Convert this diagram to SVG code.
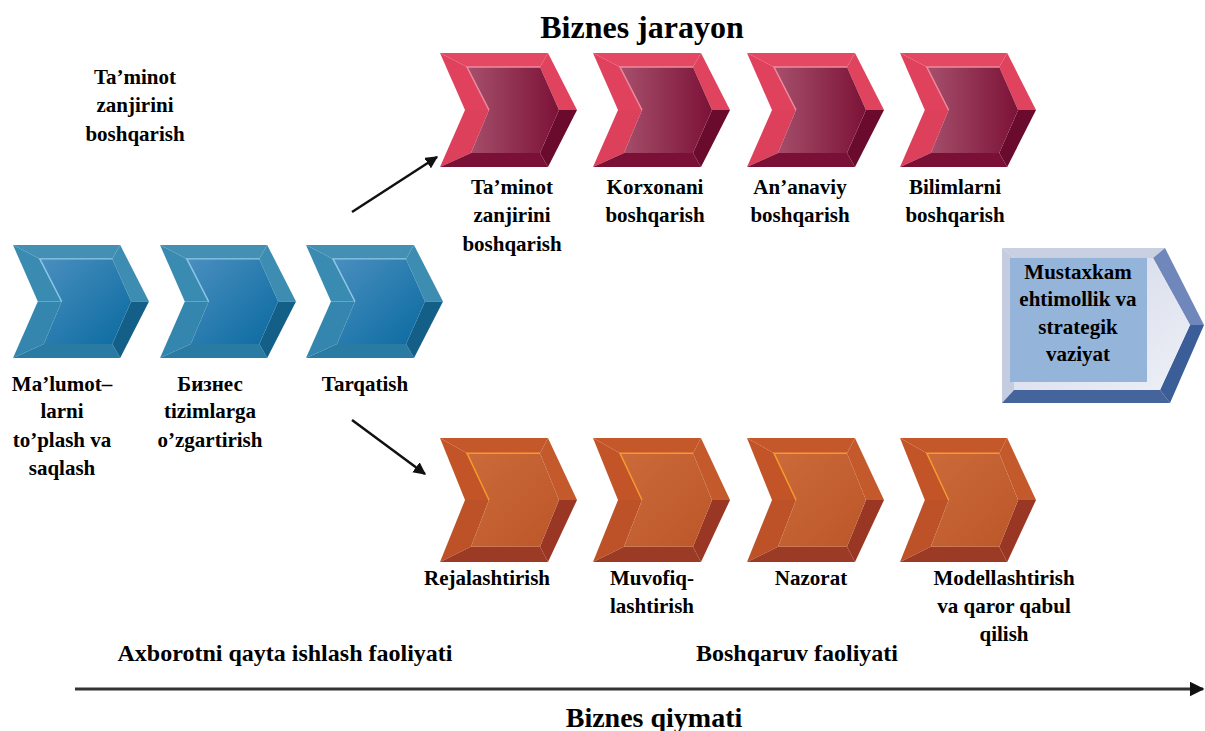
<svg xmlns="http://www.w3.org/2000/svg" xmlns:xlink="http://www.w3.org/1999/xlink" width="1205" height="731" viewBox="0 0 1205 731">
<style>
text{font-family:"Liberation Serif","Times New Roman",serif;font-weight:bold;fill:#000;text-anchor:middle}
.lbl{font-size:21px}
.conn{stroke:#111;stroke-width:2.5;fill:none}
</style>
<defs>
<linearGradient id="gBlue" x1="0" y1="0" x2="1" y2="1"><stop offset="0" stop-color="#4a8fbf"/><stop offset="1" stop-color="#0a6aa0"/></linearGradient>
<linearGradient id="gRed" x1="0" y1="0" x2="1" y2="0"><stop offset="0" stop-color="#a6506c"/><stop offset="1" stop-color="#7c1237"/></linearGradient>
<linearGradient id="gOrange" x1="0" y1="0" x2="1" y2="1"><stop offset="0" stop-color="#cc6a3a"/><stop offset="1" stop-color="#bb5628"/></linearGradient>
<linearGradient id="gBox" x1="0" y1="0" x2="1" y2="1"><stop offset="0" stop-color="#d0d6e8"/><stop offset="1" stop-color="#eef0f6"/></linearGradient>
<marker id="ah" viewBox="0 0 10 10" refX="9" refY="5" markerWidth="5" markerHeight="5" orient="auto" markerUnits="strokeWidth"><path d="M0,0 L10,5 L0,10 z" fill="#111"/></marker>
<marker id="ah2" viewBox="0 0 10 10" refX="9" refY="5" markerWidth="5" markerHeight="5" orient="auto" markerUnits="strokeWidth"><path d="M0,0 L10,5 L0,10 z" fill="#111"/></marker>
<symbol id="chevBlue" viewBox="0 0 137 114" preserveAspectRatio="none">
<polygon points="0,0 108,0 100,14 27,14" fill="#4490b5"/>
<polygon points="0,0 27,14 49,57 25,57" fill="#3a8bb1"/>
<polygon points="25,57 49,57 31,100 0,114" fill="#3586ae"/>
<polygon points="0,114 31,100 100,100 108,114" fill="#2a7ba3"/>
<polygon points="108,0 137,57 119,57 100,14" fill="#3d8db3"/>
<polygon points="137,57 108,114 100,100 119,57" fill="#145f88"/>
<polygon points="27,14 100,14 119,57 100,100 31,100 49,57" fill="url(#gBlue)"/>
<polyline points="49,57 27,14 100,14" fill="none" stroke="#8fc6e6" stroke-width="1.5"/>
</symbol>
<symbol id="chevRed" viewBox="0 0 137 114" preserveAspectRatio="none">
<polygon points="0,0 108,0 100,14 27,14" fill="#e44862"/>
<polygon points="0,0 27,14 49,57 25,57" fill="#e0425d"/>
<polygon points="25,57 49,57 31,100 0,114" fill="#dc405b"/>
<polygon points="0,114 31,100 100,100 108,114" fill="#7a1035"/>
<polygon points="108,0 137,57 119,57 100,14" fill="#e0435e"/>
<polygon points="137,57 108,114 100,100 119,57" fill="#6a0a2c"/>
<polygon points="27,14 100,14 119,57 100,100 31,100 49,57" fill="url(#gRed)"/>
<polyline points="49,57 27,14 100,14" fill="none" stroke="#ec8aa0" stroke-width="1.5"/>
</symbol>
<symbol id="chevOrange" viewBox="0 0 137 114" preserveAspectRatio="none">
<polygon points="0,0 108,0 100,14 27,14" fill="#c4582b"/>
<polygon points="0,0 27,14 49,57 25,57" fill="#c25428"/>
<polygon points="25,57 49,57 31,100 0,114" fill="#bd5127"/>
<polygon points="0,114 31,100 100,100 108,114" fill="#9c3b25"/>
<polygon points="108,0 137,57 119,57 100,14" fill="#c4592c"/>
<polygon points="137,57 108,114 100,100 119,57" fill="#993724"/>
<polygon points="27,14 100,14 119,57 100,100 31,100 49,57" fill="url(#gOrange)"/>
<polyline points="49,57 27,14 100,14" fill="none" stroke="#f39a2e" stroke-width="1.5"/>
</symbol>
</defs>
<rect width="1205" height="731" fill="#fff"/>

<text x="642" y="38" style="font-size:32px">Biznes jarayon</text>

<g id="label-taminot-top">
<text class="lbl" x="135" y="84">Ta’minot</text>
<text class="lbl" x="135" y="112">zanjirini</text>
<text class="lbl" x="135" y="141">boshqarish</text>
</g>

<g id="blue1"><use href="#chevBlue" x="13" y="245" width="136" height="113"/>
<text class="lbl" x="62" y="391">Ma’lumot–</text><text class="lbl" x="62" y="418">larni</text><text class="lbl" x="62" y="447">to’plash va</text><text class="lbl" x="62" y="475">saqlash</text></g>
<g id="blue2"><use href="#chevBlue" x="160" y="245" width="136" height="113"/>
<text class="lbl" x="210" y="391">Бизнес</text><text class="lbl" x="210" y="418">tizimlarga</text><text class="lbl" x="210" y="447">o’zgartirish</text></g>
<g id="blue3"><use href="#chevBlue" x="306" y="245" width="137" height="113"/>
<text class="lbl" x="365" y="391">Tarqatish</text></g>

<g id="red1"><use href="#chevRed" x="440" y="53" width="137" height="114"/>
<text class="lbl" x="512" y="194">Ta’minot</text><text class="lbl" x="512" y="222">zanjirini</text><text class="lbl" x="512" y="251">boshqarish</text></g>
<g id="red2"><use href="#chevRed" x="593" y="53" width="137" height="114"/>
<text class="lbl" x="655" y="194">Korxonani</text><text class="lbl" x="655" y="222">boshqarish</text></g>
<g id="red3"><use href="#chevRed" x="747" y="53" width="137" height="114"/>
<text class="lbl" x="800" y="194">An’anaviy</text><text class="lbl" x="800" y="222">boshqarish</text></g>
<g id="red4"><use href="#chevRed" x="900" y="53" width="136" height="114"/>
<text class="lbl" x="955" y="194">Bilimlarni</text><text class="lbl" x="955" y="222">boshqarish</text></g>

<g id="orange1"><use href="#chevOrange" x="440" y="438" width="137" height="124"/>
<text class="lbl" x="487" y="585">Rejalashtirish</text></g>
<g id="orange2"><use href="#chevOrange" x="593" y="438" width="137" height="124"/>
<text class="lbl" x="652" y="585">Muvofiq-</text><text class="lbl" x="652" y="613">lashtirish</text></g>
<g id="orange3"><use href="#chevOrange" x="747" y="438" width="137" height="124"/>
<text class="lbl" x="811" y="585">Nazorat</text></g>
<g id="orange4"><use href="#chevOrange" x="900" y="438" width="136" height="124"/>
<text class="lbl" x="1004" y="585">Modellashtirish</text><text class="lbl" x="1004" y="613">va qaror qabul</text><text class="lbl" x="1004" y="641">qilish</text></g>

<g id="position">
<polygon points="1002,248 1165,248 1153,258 1014,258" fill="#c9d0e2"/>
<polygon points="1002,248 1014,258 1014,390 1002,403" fill="#c4cce0"/>
<polygon points="1002,403 1014,390 1160,390 1170,403" fill="#46649c"/>
<polygon points="1165,248 1204,325 1190,325 1153,258" fill="#6f87bb"/>
<polygon points="1204,325 1170,403 1160,390 1190,325" fill="#3b5d98"/>
<polygon points="1014,258 1153,258 1190,325 1160,390 1014,390" fill="url(#gBox)"/>
<rect x="1010" y="258" width="137" height="124" fill="#95b4d9"/>
<text class="lbl" x="1078" y="279">Mustaxkam</text>
<text class="lbl" x="1078" y="306">ehtimollik va</text>
<text class="lbl" x="1078" y="334">strategik</text>
<text class="lbl" x="1078" y="361">vaziyat</text>
</g>

<g id="connectors">
<line class="conn" x1="352" y1="212" x2="437" y2="157" marker-end="url(#ah)"/>
<line class="conn" x1="352" y1="420" x2="425" y2="474" marker-end="url(#ah)"/>
<line x1="75" y1="689" x2="1203" y2="689" stroke="#333" stroke-width="3" marker-end="url(#ah2)"/>
</g>

<text x="285" y="661" style="font-size:24px">Axborotni qayta ishlash faoliyati</text>
<text x="797" y="661" style="font-size:24px">Boshqaruv faoliyati</text>
<text x="654" y="727" style="font-size:28px">Biznes qiymati</text>
</svg>
